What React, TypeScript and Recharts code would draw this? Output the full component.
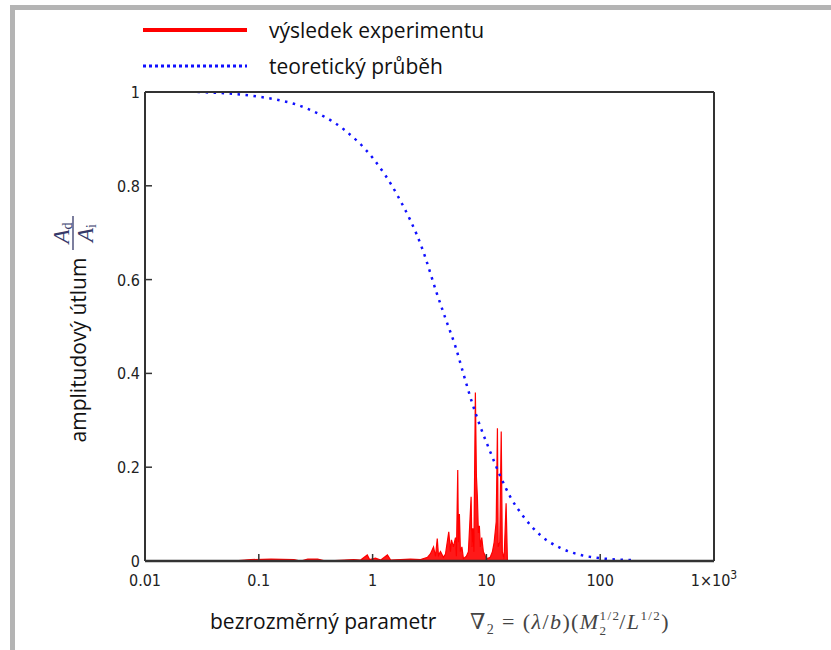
import React from "react";
import { ComposedChart, Line, Area, XAxis, YAxis, Legend } from "recharts";

const xTicks = [0.01, 0.1, 1, 10, 100, 1000];
const yTicks = [0, 0.2, 0.4, 0.6, 0.8, 1];

// teoretický průběh (dotted curve)
const theoryX = [0.029, 0.1, 0.27, 0.56, 1.02, 1.65, 2.76, 3.64, 4.37, 5.35, 6.32, 7.5, 8.86, 10.8, 13.3, 16.2, 21.3, 29.8, 44.6, 66.8, 100, 190];
const theoryY = [1.0, 0.99, 0.964, 0.92, 0.857, 0.78, 0.663, 0.573, 0.517, 0.457, 0.397, 0.337, 0.286, 0.233, 0.18, 0.137, 0.094, 0.055, 0.028, 0.013, 0.006, 0.002];

// výsledek experimentu (red trace)
const expX = [
  0.0588, 0.085, 0.128, 0.203, 0.234, 0.269, 0.329, 0.387, 0.68, 0.785, 0.898, 0.941, 1.06, 1.18, 1.35, 1.44,
  1.76, 2.15, 2.64, 3.04, 3.22, 3.43, 3.57, 3.7, 3.79, 3.95, 4.19, 4.37, 4.67, 4.83, 4.93, 5.13, 5.35, 5.45,
  5.6, 5.68, 5.79, 5.91, 6.09, 6.28, 6.67, 6.95, 7.34, 7.46, 7.6, 7.76, 8.0, 8.17, 8.33, 8.5, 8.67, 8.85,
  9.1, 9.4, 9.8, 10.2, 10.8, 11.3, 11.7, 12.2, 12.5, 12.7, 13.1, 13.5, 13.8, 14.3, 14.9, 15.3,
];
const expY = [
  0, 0.003, 0.004, 0.003, 0, 0.004, 0.004, 0, 0.003, 0.002, 0.013, 0.003, 0.006, 0.002, 0.013, 0.002,
  0.003, 0.004, 0.003, 0.008, 0.015, 0.03, 0.01, 0.048, 0.012, 0.02, 0.008, 0.015, 0.062, 0.02, 0.045, 0.03, 0.05, 0.01,
  0.194, 0.04, 0.1, 0.02, 0.03, 0.005, 0.01, 0.02, 0.137, 0.03, 0.07, 0.02, 0.359, 0.18, 0.137, 0.06, 0.075, 0.03,
  0.05, 0.02, 0.01, 0.005, 0.008, 0.02, 0.04, 0.084, 0.283, 0.03, 0.04, 0.276, 0.02, 0.005, 0.123, 0,
];

const seriesNames = ["výsledek experimentu", "teoretický průběh"];

const expData = expX.map((x, i) => ({ x, y: expY[i] }));
const theoryData = theoryX.map((x, i) => ({ x, y: theoryY[i] }));

const TICK_FONT = "'Liberation Sans Narrow', 'DejaVu Sans Condensed', 'Arial Narrow', sans-serif";
const LABEL_FONT = "'Open Sans', 'Noto Sans', sans-serif";
const MATH_FONT = "'Liberation Serif', 'DejaVu Serif', serif";
const AXIS = "#333";
const RED = "#ff0000";
const BLUE = "#1010ff";

function XTick(props: any) {
  const { x, y, payload } = props;
  const v = payload.value;
  return (
    <text x={x} y={y} dy={17} textAnchor="middle" fontFamily={TICK_FONT} fontSize={16} fill="#222">
      {v === 1000 ? (
        <>
          1×10<tspan dy={-7} fontSize={12}>3</tspan>
        </>
      ) : (
        String(v)
      )}
    </text>
  );
}

function YTick(props: any) {
  const { x, y, payload } = props;
  return (
    <text x={x} y={y} dy={6} textAnchor="end" fontFamily={TICK_FONT} fontSize={16} fill="#222">
      {String(payload.value)}
    </text>
  );
}

function YTitle(props: any) {
  const vb = props.viewBox || { x: 0, y: 92, width: 145, height: 469 };
  const cx = vb.x + 78;
  const cy = vb.y + 258;
  const fx = vb.x + 73;
  const fy = vb.y + 141;
  return (
    <g>
      <text
        x={cx}
        y={cy}
        transform={`rotate(-90 ${cx} ${cy})`}
        textAnchor="middle"
        dominantBaseline="central"
        fontFamily={LABEL_FONT}
        fontSize={21}
        fill="#111"
      >
        amplitudový útlum
      </text>
      <g transform={`rotate(-90 ${fx} ${fy})`} fontFamily={MATH_FONT} fill="#363a6a">
        <text x={fx} y={fy - 4} textAnchor="middle" fontSize={23}>
          <tspan fontStyle="italic">A</tspan>
          <tspan fontSize={14} dy={3}>d</tspan>
        </text>
        <line x1={fx - 17} y1={fy} x2={fx + 17} y2={fy} stroke="#363a6a" strokeWidth={1.3} />
        <text x={fx} y={fy + 20} textAnchor="middle" fontSize={23}>
          <tspan fontStyle="italic">A</tspan>
          <tspan fontSize={14} dy={3}>i</tspan>
        </text>
      </g>
    </g>
  );
}

function XTitle(props: any) {
  const vb = props.viewBox || { x: 145, y: 561, width: 569, height: 60 };
  const by = vb.y + 68;
  const fx = vb.x + 325;
  return (
    <g>
      <text x={vb.x + 65} y={by} fontFamily={LABEL_FONT} fontSize={21} fill="#111">
        bezrozměrný parametr
      </text>
      <text x={fx} y={by} fontFamily={MATH_FONT} fontSize={22} fill="#444" letterSpacing={1.4}>
        ∇<tspan fontSize={14} dy={5}>2</tspan>
        <tspan dy={-5}>{" = ("}</tspan>
        <tspan fontStyle="italic">λ</tspan>
        <tspan>/</tspan>
        <tspan fontStyle="italic">b</tspan>
        <tspan>)(</tspan>
        <tspan fontStyle="italic">M</tspan>
        <tspan fontSize={13} dy={-9}>1/2</tspan>
        <tspan fontSize={13} dx={-21} dy={15}>2</tspan>
        <tspan dx={12} dy={-6}>/</tspan>
        <tspan fontStyle="italic">L</tspan>
        <tspan fontSize={13} dy={-9}>1/2</tspan>
        <tspan dy={9}>)</tspan>
      </text>
    </g>
  );
}

const legendLook = [
  { color: RED, dash: undefined as string | undefined, width: 4 },
  { color: BLUE, dash: "3 3", width: 3 },
];

const renderLegend = () => (
  <div>
    {seriesNames.map((name, i) => (
      <div key={name} style={{ display: "flex", alignItems: "center", height: 36 }}>
        <svg width={104} height={10} style={{ display: "block" }}>
          <line
            x1={0}
            y1={5}
            x2={104}
            y2={5}
            stroke={legendLook[i].color}
            strokeWidth={legendLook[i].width}
            strokeDasharray={legendLook[i].dash}
          />
        </svg>
        <span style={{ marginLeft: 22, fontFamily: LABEL_FONT, fontSize: 21, color: "#111", lineHeight: "36px" }}>
          {name}
        </span>
      </div>
    ))}
  </div>
);

export default function App() {
  return (
    <div style={{ position: "absolute", left: 0, top: 0, width: 831, height: 650, background: "#fff", overflow: "hidden" }}>
      <div style={{ position: "absolute", left: 10, top: 5, width: 821, height: 5, background: "#b4b4b4" }} />
      <div style={{ position: "absolute", left: 10, top: 5, width: 5, height: 645, background: "#b4b4b4" }} />
      <ComposedChart width={831} height={650} margin={{ top: 91, right: 116, bottom: 29, left: 0 }}>
        <XAxis
          dataKey="x"
          type="number"
          scale="log"
          domain={[0.01, 1000]}
          ticks={xTicks}
          allowDataOverflow
          height={60}
          tickSize={-7}
          tickMargin={15}
          tick={<XTick />}
          axisLine={{ stroke: AXIS, strokeWidth: 2.5 }}
          tickLine={{ stroke: AXIS, strokeWidth: 1.5 }}
          label={{ content: (p: any) => <XTitle {...p} /> }}
        />
        <XAxis
          xAxisId="top"
          orientation="top"
          type="number"
          scale="log"
          domain={[0.01, 1000]}
          ticks={xTicks}
          allowDataOverflow
          height={1}
          tickSize={-7}
          tick={false}
          axisLine={{ stroke: AXIS, strokeWidth: 2 }}
          tickLine={{ stroke: AXIS, strokeWidth: 1.5 }}
        />
        <YAxis
          type="number"
          domain={[0, 1]}
          ticks={yTicks}
          allowDataOverflow
          width={145}
          tickSize={-7}
          tickMargin={12}
          tick={<YTick />}
          axisLine={{ stroke: AXIS, strokeWidth: 2 }}
          tickLine={{ stroke: AXIS, strokeWidth: 1.5 }}
          label={{ content: (p: any) => <YTitle {...p} /> }}
        />
        <YAxis
          yAxisId="right"
          orientation="right"
          type="number"
          domain={[0, 1]}
          ticks={yTicks}
          width={1}
          tickSize={-7}
          tick={false}
          axisLine={{ stroke: AXIS, strokeWidth: 2 }}
          tickLine={{ stroke: AXIS, strokeWidth: 1.5 }}
        />
        <Legend
          layout="horizontal"
          verticalAlign="middle"
          align="center"
          wrapperStyle={{ top: 12, left: 143, width: 420 }}
          content={renderLegend}
        />
        <Area
          data={expData}
          dataKey="y"
          name={seriesNames[0]}
          type="linear"
          stroke={RED}
          strokeWidth={1.2}
          fill={RED}
          fillOpacity={0.9}
          dot={false}
          activeDot={false}
          isAnimationActive={false}
        />
        <Line
          data={theoryData}
          dataKey="y"
          name={seriesNames[1]}
          type="monotone"
          stroke={BLUE}
          strokeWidth={2.5}
          strokeDasharray="2.5 5.5"
          dot={false}
          activeDot={false}
          isAnimationActive={false}
        />
      </ComposedChart>
    </div>
  );
}
